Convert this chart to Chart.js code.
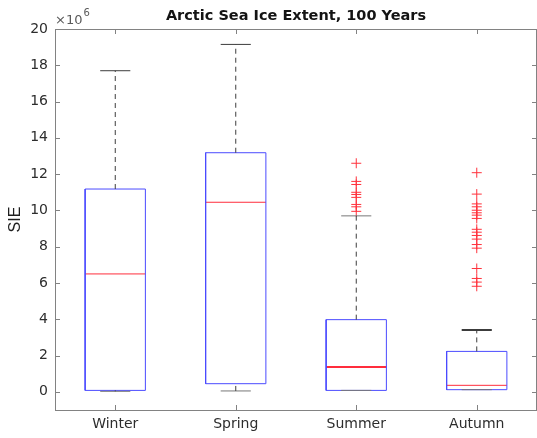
<!DOCTYPE html>
<html>
<head>
<meta charset="utf-8">
<title>Arctic Sea Ice Extent, 100 Years</title>
<script src="https://cdn.jsdelivr.net/npm/chart.js@4.4.1/dist/chart.umd.min.js"></script>
<style>
  html, body { margin: 0; padding: 0; background: #fff; }
  #wrap { width: 537px; height: 438px; }
</style>
</head>
<body>
<div id="wrap"><canvas id="sie-chart" width="537" height="438"></canvas></div>
<script>
'use strict';

// ******* DATA (SIE in units of 10^6) *******
let chartTitle = 'Arctic Sea Ice Extent, 100 Years';
let seasons = ['Winter', 'Spring', 'Summer', 'Autumn'];
let q1 = [0.08, 0.45, 0.08, 0.12];
let medians = [6.5, 10.45, 1.37, 0.36];
let q3 = [11.18, 13.18, 3.98, 2.23];
let whiskerLow = [0.03, 0.05, 0.08, 0.12];
let whiskerHigh = [17.7, 19.15, 9.7, 3.41];
let summerOutliers = [12.6, 11.6, 11.43, 11.0, 10.88, 10.72, 10.33, 10.2, 9.95];
let autumnOutliers = [12.08, 10.9, 10.36, 10.2, 10.01, 9.87, 9.74, 9.56, 8.96, 8.8, 8.62, 8.42, 8.12, 7.92, 6.8, 6.25, 6.05, 5.82];
let outliers = [[], [], summerOutliers, autumnOutliers];
let yTicks = [0, 2, 4, 6, 8, 10, 12, 14, 16, 18, 20];

// ******* STYLE *******
let boxBlue = 'rgb(75,75,255)';
let medianRed = 'rgb(255,45,60)';
let whiskerGray = 'rgb(60,60,60)';
let axisGray = 'rgb(130,130,130)';
let textGray = 'rgb(45,45,45)';
let tickFont = { family: 'DejaVu Sans', size: 14 };
let boxHalf = 0.25;
let capHalf = 0.125;

// ****** BUILD DATASETS ******
function segment(points, color, width, dash) {
  return {
    data: points,
    showLine: true,
    borderColor: color,
    borderWidth: width,
    borderDash: dash || [],
    pointRadius: 0,
    fill: false,
    tension: 0
  };
}

let datasets = [];

for (let i = 0; i < seasons.length; i++) {
  let x = i + 1;
  // dashed whiskers
  datasets.push(segment([{ x: x, y: q3[i] }, { x: x, y: whiskerHigh[i] }], whiskerGray, 1, [5, 4]));
  if (whiskerLow[i] < q1[i]) {
    datasets.push(segment([{ x: x, y: whiskerLow[i] }, { x: x, y: q1[i] }], whiskerGray, 1, [5, 4]));
  }
  // whisker caps
  let capWidth = i === 3 ? 2 : 1;
  datasets.push(segment([{ x: x - capHalf, y: whiskerHigh[i] }, { x: x + capHalf, y: whiskerHigh[i] }], i === 2 ? 'rgb(120,120,120)' : whiskerGray, capWidth));
  datasets.push(segment([{ x: x - capHalf, y: whiskerLow[i] }, { x: x + capHalf, y: whiskerLow[i] }], 'rgb(120,120,120)', 1));
  // box
  datasets.push(segment([
    { x: x - boxHalf, y: q1[i] },
    { x: x + boxHalf, y: q1[i] },
    { x: x + boxHalf, y: q3[i] },
    { x: x - boxHalf, y: q3[i] },
    { x: x - boxHalf, y: q1[i] }
  ], boxBlue, 1));
  // median
  datasets.push(segment([{ x: x - boxHalf, y: medians[i] }, { x: x + boxHalf, y: medians[i] }], medianRed, i === 2 ? 2 : 1));
  // outliers
  if (outliers[i].length) {
    datasets.push({
      data: outliers[i].map(v => ({ x: x, y: v })),
      showLine: false,
      pointStyle: 'cross',
      pointRadius: 5,
      pointBorderColor: 'rgb(255,50,60)',
      pointBorderWidth: 1,
      pointBackgroundColor: 'rgb(255,50,60)'
    });
  }
}

// *** frame, inward ticks, title and exponent label ***
let framePlugin = {
  id: 'frameTicks',
  afterDraw(chart) {
    let { ctx, chartArea: a, scales } = chart;
    ctx.save();
    ctx.strokeStyle = axisGray;
    ctx.lineWidth = 1;
    ctx.beginPath();
    ctx.moveTo(a.left, a.top + 0.5);
    ctx.lineTo(a.right, a.top + 0.5);
    ctx.moveTo(a.right - 0.5, a.top);
    ctx.lineTo(a.right - 0.5, a.bottom);
    for (let i = 0; i < seasons.length; i++) {
      let px = Math.round(scales.x.getPixelForValue(i + 1)) + 0.5;
      ctx.moveTo(px, a.bottom);
      ctx.lineTo(px, a.bottom - 5);
      ctx.moveTo(px, a.top);
      ctx.lineTo(px, a.top + 5);
    }
    yTicks.forEach(v => {
      let py = Math.round(scales.y.getPixelForValue(v)) + 0.5;
      ctx.moveTo(a.left, py);
      ctx.lineTo(a.left + 5, py);
      ctx.moveTo(a.right, py);
      ctx.lineTo(a.right - 5, py);
    });
    ctx.stroke();

    // title centred over the plot area
    ctx.fillStyle = 'rgb(20,20,20)';
    ctx.textAlign = 'center';
    ctx.textBaseline = 'middle';
    ctx.font = 'bold 14.5px "DejaVu Sans"';
    ctx.fillText(chartTitle, (a.left + a.right) / 2, 16.5);

    ctx.fillStyle = 'rgb(90,90,90)';
    ctx.textBaseline = 'alphabetic';
    ctx.textAlign = 'left';
    ctx.font = '13px "DejaVu Sans"';
    ctx.fillText('\u00d710', a.left, 24);
    let w = ctx.measureText('\u00d710').width;
    ctx.font = '10px "DejaVu Sans"';
    ctx.fillText('6', a.left + w + 1, 16);
    ctx.restore();
  }
};

let chartObj = {
  type: 'scatter',
  data: { datasets: datasets },
  options: {
    responsive: false,
    animation: false,
    layout: { autoPadding: false, padding: { left: 0, right: 0, top: 29, bottom: 0 } },
    plugins: {
      legend: { display: false },
      tooltip: { enabled: false },
      title: { display: false }
    },
    scales: {
      x: {
        type: 'linear',
        min: 0.5,
        max: 4.5,
        grid: { display: false, drawTicks: false },
        border: { display: true, color: axisGray, width: 1 },
        afterBuildTicks(scale) {
          scale.ticks = seasons.map((s, i) => ({ value: i + 1 }));
        },
        afterFit(scale) { scale.height = 28; },
        ticks: {
          padding: 6,
          color: textGray,
          font: tickFont,
          maxRotation: 0,
          callback: v => seasons[v - 1]
        }
      },
      y: {
        type: 'linear',
        min: -1,
        max: 20,
        grid: { display: false, drawTicks: false },
        border: { display: true, color: axisGray, width: 1 },
        afterBuildTicks(scale) {
          scale.ticks = yTicks.map(v => ({ value: v }));
        },
        afterFit(scale) { scale.width = 55; },
        ticks: {
          padding: 7,
          color: textGray,
          font: tickFont
        },
        title: {
          display: true,
          text: 'SIE',
          color: 'rgb(30,30,30)',
          font: { family: 'Liberation Sans', size: 16 },
          padding: { top: 6, bottom: 0 }
        }
      }
    }
  },
  plugins: [framePlugin]
};

new Chart(document.getElementById('sie-chart'), chartObj); //eslint-disable-line
</script>
</body>
</html>
